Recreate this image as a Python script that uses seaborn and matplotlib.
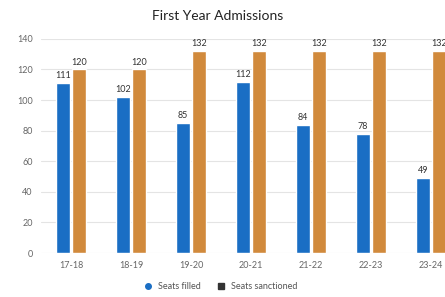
import matplotlib
matplotlib.use("Agg")
import matplotlib.pyplot as plt
import pandas as pd
import seaborn as sns
from matplotlib.lines import Line2D

years = ["17-18", "18-19", "19-20", "20-21", "21-22", "22-23", "23-24"]
seats_filled = [111, 102, 85, 112, 84, 78, 49]
seats_sanctioned = [120, 120, 132, 132, 132, 132, 132]
series_names = ["Seats filled", "Seats sanctioned"]
colors = ["#1a6ec4", "#d18a3c"]

df = pd.DataFrame({
    "year": years * 2,
    "seats": seats_filled + seats_sanctioned,
    "series": [series_names[0]] * len(years) + [series_names[1]] * len(years),
})

sns.set_theme(style="white")
plt.rcParams["font.family"] = ["Lato", "DejaVu Sans"]

fig = plt.figure(figsize=(4.45, 2.97), dpi=100)
# axes runs past the right edge, like the cropped original
ax = fig.add_axes([0.092, 0.148, 0.944, 0.721])

sns.barplot(data=df, x="year", y="seats", hue="series", palette=colors,
            saturation=1, width=0.52, gap=0.12, legend=False, ax=ax)

for container in ax.containers:
    ax.bar_label(container, fontsize=6.5, color="#333333", padding=2)

ax.set_ylim(0, 140)
ax.set_yticks(range(0, 141, 20))
ax.set_xlim(-0.5, len(years) - 0.5)
ax.set_xlabel("")
ax.set_ylabel("")
ax.grid(axis="y", color="#e4e4e4", linewidth=0.8)
ax.set_axisbelow(True)
sns.despine(ax=ax, left=True, bottom=True)
ax.tick_params(axis="both", labelsize=6.5, colors="#666666", length=0, pad=6)

fig.text(0.49, 0.945, "First Year Admissions", ha="center", va="center",
         fontsize=10, color="#222222")

handles = [
    Line2D([], [], marker="o", linestyle="", color=colors[0], markersize=4),
    Line2D([], [], marker="s", linestyle="", color="#333333", markersize=4),
]
fig.legend(handles, series_names, loc="center", bbox_to_anchor=(0.49, 0.035),
           ncol=2, frameon=False, fontsize=6.5, handletextpad=0.1,
           columnspacing=1.2, labelcolor="#555555")

fig.savefig("out.png", dpi=100)
